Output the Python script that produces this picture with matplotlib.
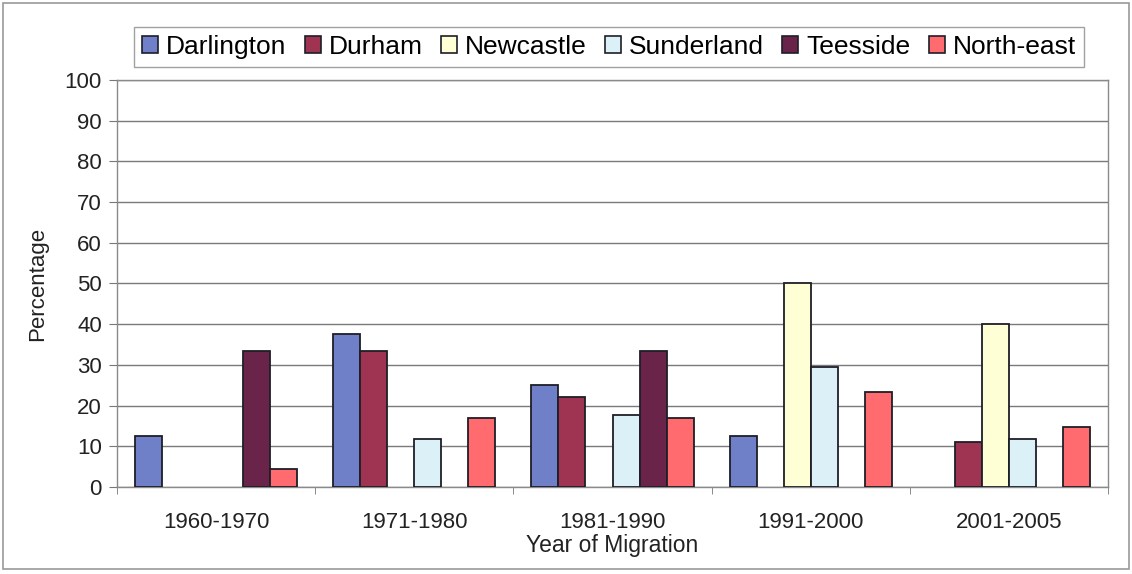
import numpy as np
import matplotlib
matplotlib.use("Agg")
import matplotlib.pyplot as plt
import matplotlib.patches as mpatches

periods = ["1960-1970", "1971-1980", "1981-1990", "1991-2000", "2001-2005"]
regions = ["Darlington", "Durham", "Newcastle", "Sunderland", "Teesside", "North-east"]

darlington = [12.5, 37.5, 25.0, 12.5, 0.0]
durham = [0.0, 33.3, 22.2, 0.0, 11.1]
newcastle = [0.0, 0.0, 0.0, 50.0, 40.0]
sunderland = [0.0, 11.8, 17.6, 29.4, 11.8]
teesside = [33.3, 0.0, 33.3, 0.0, 0.0]
north_east = [4.5, 17.0, 17.0, 23.4, 14.7]

series = [darlington, durham, newcastle, sunderland, teesside, north_east]
colors = ["#7080c8", "#9e3452", "#ffffd6", "#dcf0f8", "#6a2449", "#ff6b6e"]

plt.rcParams["font.family"] = ["Liberation Sans", "DejaVu Sans"]

fig = plt.figure(figsize=(11.32, 5.74), dpi=100)
fig.patches.append(mpatches.Rectangle((0.003, 0.008), 0.994, 0.987, transform=fig.transFigure,
                                      fill=False, edgecolor="#9a9a9a", lw=1.2))
ax = fig.add_axes([0.1034, 0.1516, 0.8754, 0.709])

x = np.arange(len(periods))
w = 0.1364
for j, (vals, c) in enumerate(zip(series, colors)):
    xs = [xi + (j - 2.5) * w for xi, v in zip(x, vals) if v > 0]
    hs = [v for v in vals if v > 0]
    ax.bar(xs, hs, width=w, color=c, edgecolor="#1e1e28", linewidth=1.3, zorder=3)

ax.set_xlim(-0.5, 4.5)
ax.set_ylim(0, 100)
ax.set_yticks(range(0, 101, 10))
ax.set_xticks(x)
ax.set_xticklabels(periods)
ax.set_xticks(np.arange(-0.5, 4.6, 1), minor=True)
ax.tick_params(axis="x", which="major", length=0, pad=18, labelsize=16, colors="#222222")
ax.tick_params(axis="x", which="minor", length=5, color="#777777")
ax.tick_params(axis="y", length=6, color="#777777", labelsize=16, pad=5, labelcolor="#222222")
ax.yaxis.grid(True, color="#7a7a7a", lw=1.0, zorder=0)
for s in ax.spines.values():
    s.set_color("#8a8a8a")
    s.set_linewidth(1.0)

ax.set_ylabel("Percentage", fontsize=16, color="#222222", labelpad=12)
ax.set_xlabel("Year of Migration", fontsize=16.5, color="#222222", labelpad=1)

handles = [mpatches.Patch(facecolor=c, edgecolor="#1e1e28", lw=1.2) for c in colors]
fig.legend(handles, regions, loc="center", bbox_to_anchor=(0.538, 0.918), ncol=6,
           fontsize=19, frameon=True, fancybox=False, edgecolor="#8a8a8a",
           handlelength=0.6, handleheight=0.6, handletextpad=0.3, columnspacing=0.7,
           borderpad=0.3, borderaxespad=0)

fig.savefig("out.png", dpi=100)
